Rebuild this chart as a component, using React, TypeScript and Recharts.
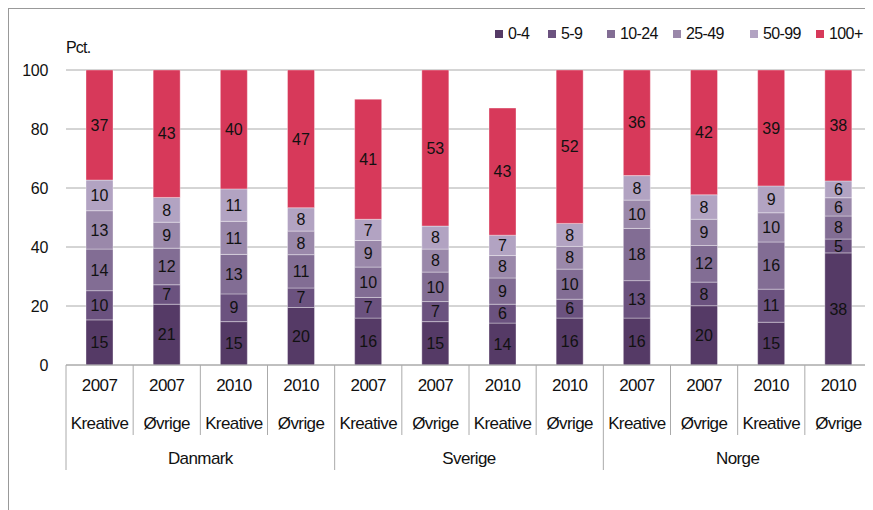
import React from "react";
import {
  BarChart,
  Bar,
  XAxis,
  YAxis,
  CartesianGrid,
  LabelList,
  Label,
} from "recharts";

const years = ["2007", "2007", "2010", "2010", "2007", "2007", "2010", "2010", "2007", "2007", "2010", "2010"];
const types = ["Kreative", "Øvrige", "Kreative", "Øvrige", "Kreative", "Øvrige", "Kreative", "Øvrige", "Kreative", "Øvrige", "Kreative", "Øvrige"];
const countries = ["Danmark", "Sverige", "Norge"];

// segment heights (labels are the rounded values)
const s0_4 = [15.3, 20.6, 14.7, 19.5, 15.9, 14.7, 14.2, 15.9, 15.9, 20.1, 14.5, 38.0];
const s5_9 = [9.9, 6.6, 9.4, 6.6, 7.0, 6.8, 6.4, 6.4, 12.7, 8.0, 11.2, 4.7];
const s10_24 = [14.1, 12.4, 13.4, 11.3, 10.3, 10.0, 8.9, 10.2, 17.7, 12.4, 16.0, 7.8];
const s25_49 = [13.0, 8.8, 11.2, 8.0, 9.0, 7.8, 7.6, 7.7, 9.6, 8.9, 9.9, 6.2];
const s50_99 = [10.4, 8.4, 11.0, 7.9, 7.2, 7.8, 6.9, 7.8, 8.3, 8.3, 9.1, 5.7];
const s100 = [37.3, 43.2, 40.4, 46.7, 40.7, 52.9, 43.1, 52.0, 35.8, 42.3, 39.3, 37.6];

const seriesNames = ["0-4", "5-9", "10-24", "25-49", "50-99", "100+"];
const seriesColors = ["#553a66", "#6b527f", "#826d94", "#9a88aa", "#b2a3c2", "#d7395a"];
const yTicks = [0, 20, 40, 60, 80, 100];

const data = years.map((y, i) => ({
  id: i,
  a: s0_4[i],
  b: s5_9[i],
  c: s10_24[i],
  d: s25_49[i],
  e: s50_99[i],
  f: s100[i],
}));
const keys = ["a", "b", "c", "d", "e", "f"];

const FONT = "'Liberation Sans', Arial, Helvetica, sans-serif";
const W = 864;
const H = 500;
const LEFT = 57;
const RIGHT = 1;
const BAND = (W - LEFT - RIGHT) / years.length;
// legend item left edges (px, inside the frame)
const legendLeft = [486, 539, 598, 664, 741, 807];

const XTick = (props: any) => {
  const { x, y, index } = props;
  const left = x - BAND / 2;
  const groupStart = index % 4 === 0;
  const last = index === years.length - 1;
  return (
    <g fontFamily={FONT} fontSize={17} fill="#111" letterSpacing={-0.6}>
      <line x1={left} x2={left} y1={y} y2={y + (groupStart ? 105 : 70)} stroke="#aaa" />
      {last && <line x1={left + BAND} x2={left + BAND} y1={y} y2={y + 105} stroke="#aaa" />}
      <text x={x} y={y + 20} textAnchor="middle" dominantBaseline="central">
        {years[index]}
      </text>
      <text x={x} y={y + 58} textAnchor="middle" dominantBaseline="central">
        {types[index]}
      </text>
      {index % 4 === 1 && (
        <text x={x + BAND / 2} y={y + 93} textAnchor="middle" dominantBaseline="central">
          {countries[Math.floor(index / 4)]}
        </text>
      )}
    </g>
  );
};

export default function App() {
  return (
    <div
      style={{
        position: "relative",
        width: W,
        height: H + 2,
        borderTop: "1px solid #999",
        borderLeft: "1px solid #999",
        fontFamily: FONT,
        overflow: "hidden",
      }}
    >
      {seriesNames.map((n, i) => (
        <div
          key={n}
          style={{
            position: "absolute",
            top: 16,
            left: legendLeft[i],
            display: "flex",
            alignItems: "center",
            fontSize: 16,
            color: "#111",
            whiteSpace: "nowrap",
          }}
        >
          <span style={{ display: "inline-block", width: 8, height: 8, background: seriesColors[i], marginRight: 5 }} />
          <span style={{ letterSpacing: -0.6 }}>{n}</span>
        </div>
      ))}
      <BarChart
        width={W}
        height={H}
        data={data}
        margin={{ top: 61, right: RIGHT, left: 0, bottom: 34 }}
        barCategoryGap={0}
      >
        <CartesianGrid vertical={false} stroke="#aaa" />
        <XAxis
          dataKey="id"
          height={110}
          interval={0}
          tickSize={0}
          tickMargin={0}
          axisLine={{ stroke: "#aaa" }}
          tickLine={false}
          tick={<XTick />}
        />
        <YAxis
          width={LEFT}
          domain={[0, 100]}
          ticks={yTicks}
          allowDataOverflow
          axisLine={false}
          tickLine={false}
          tickSize={0}
          tickMargin={18}
          tick={{ fill: "#111", fontSize: 16, fontFamily: FONT, letterSpacing: -0.3 }}
        >
          <Label
            content={() => (
              <text x={57} y={44} fontSize={16} fontFamily={FONT} fill="#111" letterSpacing={-0.8}>
                Pct.
              </text>
            )}
          />
        </YAxis>
        {keys.map((k, i) => (
          <Bar
            key={k}
            dataKey={k}
            name={seriesNames[i]}
            stackId="s"
            fill={seriesColors[i]}
            stroke="rgba(255,255,255,0.35)"
            strokeWidth={1}
            barSize={27}
            isAnimationActive={false}
          >
            <LabelList
              dataKey={k}
              position="center"
              formatter={(v: any) => Math.round(Number(v))}
              fill="#111"
              fontSize={16}
              fontFamily={FONT}
            />
          </Bar>
        ))}
      </BarChart>
    </div>
  );
}
